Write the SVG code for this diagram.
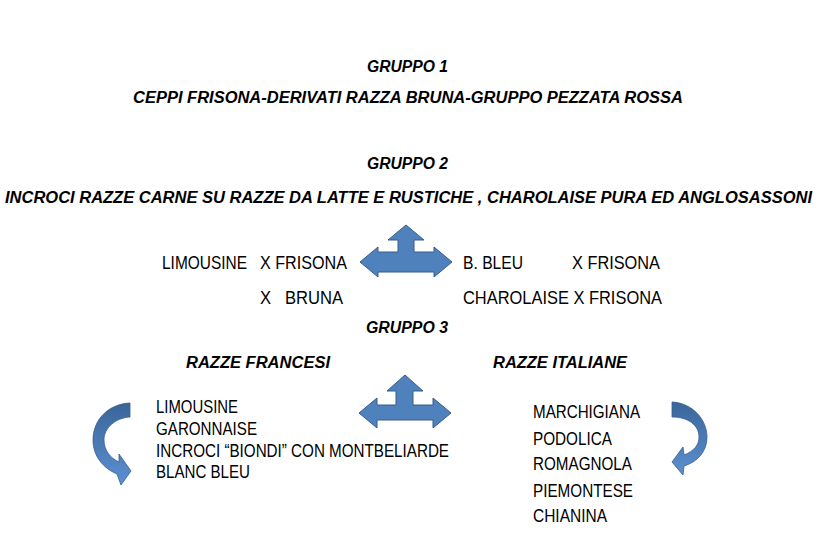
<svg xmlns="http://www.w3.org/2000/svg" width="820" height="550" viewBox="0 0 820 550">
<style>
.t{font-family:"Liberation Sans",Arial,sans-serif;font-size:16px;font-weight:bold;font-style:italic;fill:#000}
.n{font-family:"Liberation Sans",Arial,sans-serif;font-size:18px;fill:#000}
.a3{fill:#4F81BD;stroke:#385D8A;stroke-width:1}
.ca{fill:url(#cg);stroke:#34608f;stroke-width:0.8}
</style>
<defs>
<linearGradient id="cg" x1="0" y1="0" x2="0" y2="1">
<stop offset="0" stop-color="#3a6599"/>
<stop offset="1" stop-color="#5c90d2"/>
</linearGradient>
</defs>
<rect width="820" height="550" fill="#fff"/>
<g id="titles">
<text class="t" x="367" y="72" textLength="81" lengthAdjust="spacingAndGlyphs">GRUPPO 1</text>
<text class="t" x="133" y="103" textLength="550" lengthAdjust="spacingAndGlyphs">CEPPI FRISONA-DERIVATI RAZZA BRUNA-GRUPPO PEZZATA ROSSA</text>
<text class="t" x="367" y="169" textLength="81" lengthAdjust="spacingAndGlyphs">GRUPPO 2</text>
<text class="t" x="5" y="203" textLength="807" lengthAdjust="spacingAndGlyphs">INCROCI RAZZE CARNE SU RAZZE DA LATTE E RUSTICHE , CHAROLAISE PURA ED ANGLOSASSONI</text>
<text class="t" x="366" y="333" textLength="82" lengthAdjust="spacingAndGlyphs">GRUPPO 3</text>
<text class="t" x="186" y="368" textLength="144" lengthAdjust="spacingAndGlyphs">RAZZE FRANCESI</text>
<text class="t" x="493" y="368" textLength="134" lengthAdjust="spacingAndGlyphs">RAZZE ITALIANE</text>
</g>
<g id="incroci">
<text class="n" x="162" y="269" textLength="85" lengthAdjust="spacingAndGlyphs">LIMOUSINE</text>
<text class="n" x="260" y="269" textLength="87" lengthAdjust="spacingAndGlyphs">X FRISONA</text>
<text class="n" x="260" y="304" textLength="83" lengthAdjust="spacingAndGlyphs" xml:space="preserve">X   BRUNA</text>
<text class="n" x="463" y="269" textLength="60" lengthAdjust="spacingAndGlyphs">B. BLEU</text>
<text class="n" x="572" y="269" textLength="88" lengthAdjust="spacingAndGlyphs">X FRISONA</text>
<text class="n" x="463" y="304" textLength="199" lengthAdjust="spacingAndGlyphs">CHAROLAISE X FRISONA</text>
</g>
<g id="francesi">
<text class="n" x="156" y="413" textLength="82" lengthAdjust="spacingAndGlyphs">LIMOUSINE</text>
<text class="n" x="156" y="435" textLength="101" lengthAdjust="spacingAndGlyphs">GARONNAISE</text>
<text class="n" x="156" y="457" textLength="293" lengthAdjust="spacingAndGlyphs">INCROCI “BIONDI” CON MONTBELIARDE</text>
<text class="n" x="156" y="478" textLength="94" lengthAdjust="spacingAndGlyphs">BLANC BLEU</text>
</g>
<g id="italiane">
<text class="n" x="533" y="418" textLength="107" lengthAdjust="spacingAndGlyphs">MARCHIGIANA</text>
<text class="n" x="533" y="445" textLength="79" lengthAdjust="spacingAndGlyphs">PODOLICA</text>
<text class="n" x="533" y="470" textLength="99" lengthAdjust="spacingAndGlyphs">ROMAGNOLA</text>
<text class="n" x="533" y="497" textLength="100" lengthAdjust="spacingAndGlyphs">PIEMONTESE</text>
<text class="n" x="533" y="522" textLength="74" lengthAdjust="spacingAndGlyphs">CHIANINA</text>
</g>
<g id="connectors">
<polygon class="a3" points="360,262 378,247 378,252 398,252 398,240 388,240 406,225 424,240 414,240 414,252 434,252 434,247 452,262 434,277 434,272 378,272 378,277"/>
<polygon class="a3" points="359,413 377,398 377,405 396,405 396,391 387,391 405,375 423,391 413,391 413,405 433,405 433,398 451,413 433,428 433,420 377,420 377,428"/>
<path class="ca" d="M130,403 C108,404 93,420 93,440 C93,456 103,468 117,474 L121,485 L131,471 L119,454 L119,462 C110,458 104,450 104,440 C104,428 115,418 130,417 Z"/>
<path class="ca" d="M672,402 C693,403 707,420 707,437 C707,452 697,462 684,466 L683,475 L672,462 L683,447 L684,455 C694,451 699,445 699,437 C699,425 688,417 672,417 Z"/>
</g>
</svg>
